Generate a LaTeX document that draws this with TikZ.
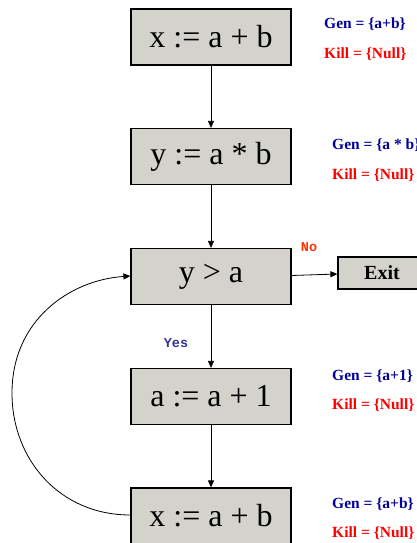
\documentclass[tikz,border=0pt]{standalone}
\usepackage{fontspec}
\setmainfont{Liberation Serif}
\setmonofont{Liberation Mono}
\usetikzlibrary{arrows.meta}
\definecolor{boxfill}{RGB}{212,211,203}
\definecolor{genblue}{RGB}{0,0,153}
\definecolor{killred}{RGB}{255,0,0}
\definecolor{noorange}{RGB}{255,51,0}
\definecolor{yesblue}{RGB}{51,51,153}
\tikzset{
  stmt/.style={draw=black, line width=1.2pt, fill=boxfill, minimum width=160pt, minimum height=56pt, inner sep=0pt, font=\fontsize{32}{32}\selectfont},
  exitbox/.style={draw=black, line width=1.2pt, fill=boxfill, minimum width=100pt, minimum height=32pt, inner sep=0pt, font=\fontsize{20}{20}\selectfont\bfseries},
  gen/.style={anchor=west, inner sep=0pt, text=genblue, font=\fontsize{15.5}{15.5}\selectfont\bfseries},
  kill/.style={anchor=west, inner sep=0pt, text=killred, font=\fontsize{15.5}{15.5}\selectfont\bfseries},
  flow/.style={draw=black, line width=0.8pt, -{Triangle[length=7pt,width=6pt]}},
  branch/.style={inner sep=0pt, font=\fontsize{13.5}{13.5}\selectfont\ttfamily\bfseries}
}
\begin{document}
\begin{tikzpicture}[x=1pt,y=-1pt]
\useasboundingbox (0,0) rectangle (417,543);
\clip (0,0) rectangle (417,543);
\node[stmt] (b1) at (211,37) {x := a + b};
\node[stmt] (b2) at (211,156.5) {y := a * b};
\node[stmt] (b3) at (211,276.5) {y > a};
\node[stmt] (b4) at (211,396.5) {a := a + 1};
\node[stmt] (b5) at (211,516) {x := a + b};
\node[exitbox] (ex) at (388,273) {\hspace*{-12pt}Exit};

\node[gen] (g1) at (324,24) {Gen = \{a+b\}};
\node[kill] (k1) at (324,54) {Kill = \{Null\}};
\node[gen] (g2) at (332,145) {Gen = \{a * b\}};
\node[kill] (k2) at (332,175) {Kill = \{Null\}};
\node[gen] (g3) at (332,376) {Gen = \{a+1\}};
\node[kill] (k3) at (332,405) {Kill = \{Null\}};
\node[gen] (g4) at (332,504) {Gen = \{a+b\}};
\node[kill] (k4) at (332,533) {Kill = \{Null\}};

\node[branch, text=noorange] (no) at (309,247) {No};
\node[branch, text=yesblue] (yes) at (176,343) {Yes};

\draw[flow] (b1.south) -- (b2.north);
\draw[flow] (b2.south) -- (b3.north);
\draw[flow] (b3.south) -- (b4.north);
\draw[flow] (b4.south) -- (b5.north);
\coordinate (b3out) at ([yshift=1pt]b3.east);
\coordinate (exin) at ([yshift=-1pt]ex.west);
\draw[flow] (b3out) -- (exin);
\coordinate (b5in) at ([yshift=1pt]b5.west);
\coordinate (b3in) at ([yshift=0.5pt]b3.west);
\coordinate (lp) at (12,393);
\draw[flow] (b5in) .. controls (60,515) and (12,460) .. (lp) .. controls (12,320) and (70,280) .. (b3in);
\end{tikzpicture}
\end{document}
